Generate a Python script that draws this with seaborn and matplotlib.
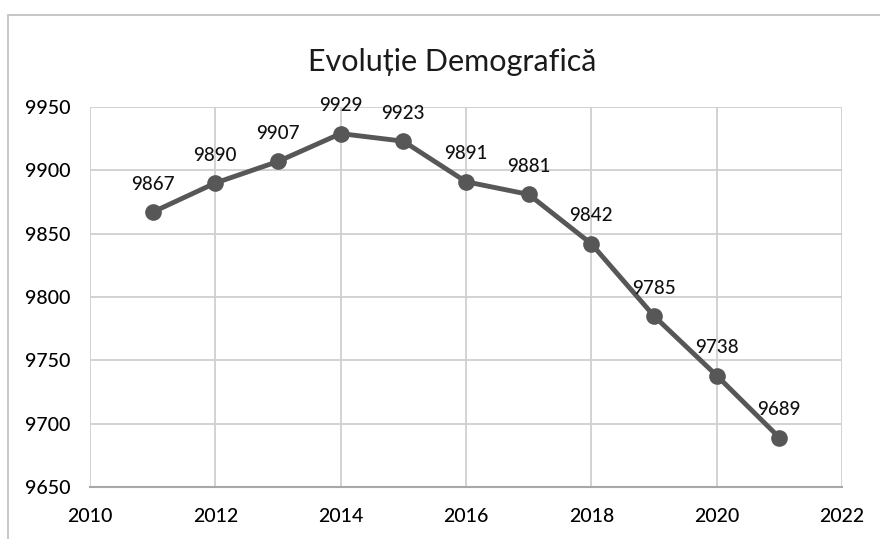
import matplotlib
matplotlib.use("Agg")
import matplotlib.pyplot as plt
from matplotlib.patches import Rectangle
import seaborn as sns
import pandas as pd

# Population by year
years = [2011, 2012, 2013, 2014, 2015, 2016, 2017, 2018, 2019, 2020, 2021]
population = [9867, 9890, 9907, 9929, 9923, 9891, 9881, 9842, 9785, 9738, 9689]
x_ticks = [2010, 2012, 2014, 2016, 2018, 2020, 2022]
y_ticks = [9650, 9700, 9750, 9800, 9850, 9900, 9950]
title = "Evoluție Demografică"

df = pd.DataFrame({"An": years, "Populatie": population})

sns.set_theme(style="white")
plt.rcParams["font.family"] = ["Lato", "DejaVu Sans"]

fig = plt.figure(figsize=(8.8, 5.39), dpi=100)
fig.patch.set_facecolor("white")

# chart area frame
fig.add_artist(Rectangle((8 / 880, -0.05), 1.0, 1 - 15 / 539 + 0.05,
                         transform=fig.transFigure, fill=False,
                         edgecolor="#bdbdbd", linewidth=1.2))

ax = fig.add_axes([90 / 880, 1 - 487 / 539, (842 - 90) / 880, (487 - 107) / 539])
ax.set_facecolor("white")

sns.lineplot(data=df, x="An", y="Populatie", ax=ax, color="#575757",
             linewidth=3.5, marker="o", markersize=12, markeredgewidth=0,
             zorder=3)

for x, y in zip(years, population):
    ax.annotate(f"{y}", (x, y), xytext=(0, 14), textcoords="offset points",
                ha="center", va="bottom", fontsize=13.5, color="#111111",
                fontweight="medium")

ax.set_xlim(2010, 2022)
ax.set_ylim(9650, 9950)
ax.set_xticks(x_ticks)
ax.set_yticks(y_ticks)
ax.set_xticklabels([str(t) for t in x_ticks], fontsize=14, color="#000000",
                   fontweight="medium")
ax.set_yticklabels([str(t) for t in y_ticks], fontsize=14, color="#000000",
                   fontweight="medium")
ax.tick_params(axis="both", length=0)
ax.tick_params(axis="x", pad=15)
ax.tick_params(axis="y", pad=14)
ax.grid(True, color="#cfcfcf", linewidth=1.3)
for side in ["top", "right", "left"]:
    ax.spines[side].set_visible(False)
ax.spines["bottom"].set_color("#a8a8a8")
ax.spines["bottom"].set_linewidth(1.5)
ax.set_xlabel("")
ax.set_ylabel("")

fig.text(452 / 880, 1 - 62 / 539, title, ha="center", va="center",
         fontsize=22, color="#1a1a1a")

fig.savefig("out.png", dpi=100, facecolor="white")
